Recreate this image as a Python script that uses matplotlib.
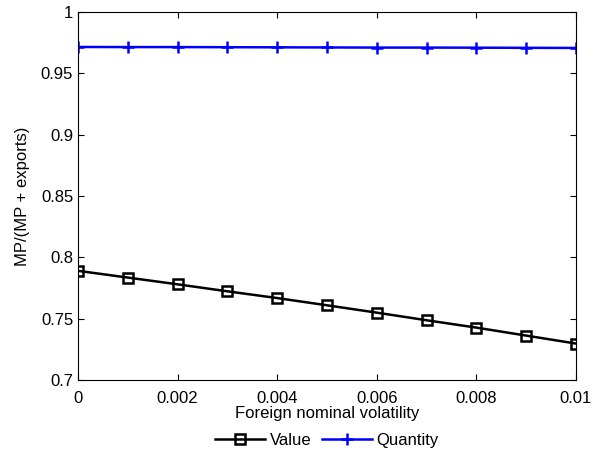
import matplotlib
matplotlib.use('Agg')
import matplotlib.pyplot as plt
import numpy as np

plt.rcParams['font.family'] = ['Liberation Sans', 'DejaVu Sans']

# data
vol = np.arange(0, 0.0101, 0.001)
value = [0.789, 0.7835, 0.778, 0.7723, 0.7668, 0.7609, 0.7549, 0.7487, 0.7427, 0.7362, 0.7297]
quantity = [0.9715, 0.9714, 0.9714, 0.9713, 0.9712, 0.9711, 0.9710, 0.9710, 0.9709, 0.9708, 0.9707]

fig = plt.figure(figsize=(5.94, 4.57), dpi=100)
ax = fig.add_axes([78/594, 1-380/457, (576-78)/594, (380-12)/457])
ax.plot(vol, value, '-s', color='k', lw=1.8, ms=7, mfc='none', mew=1.8, label='Value')
ax.plot(vol, quantity, '-+', color='b', lw=1.8, ms=9, mew=1.8, label='Quantity')

ax.set_xlim(0, 0.01)
ax.set_ylim(0.7, 1)
ax.set_xticks(np.arange(0, 0.0101, 0.002))
ax.set_xticklabels(['0', '0.002', '0.004', '0.006', '0.008', '0.01'])
ax.set_yticks(np.arange(0.7, 1.001, 0.05))
ax.set_yticklabels(['0.7', '0.75', '0.8', '0.85', '0.9', '0.95', '1'])
ax.tick_params(direction='in', top=True, right=True, labelsize=12, length=4)
ax.tick_params(axis='x', pad=8)
ax.set_xlabel('Foreign nominal volatility', fontsize=12, labelpad=0)
ax.set_ylabel('MP/(MP + exports)', fontsize=12, labelpad=8)
ax.legend(loc='upper center', bbox_to_anchor=(0.5, -0.125), ncol=2, frameon=False,
          fontsize=12, handlelength=3, columnspacing=0.6, handletextpad=0.3,
          borderaxespad=0)
plt.savefig('out.png')
